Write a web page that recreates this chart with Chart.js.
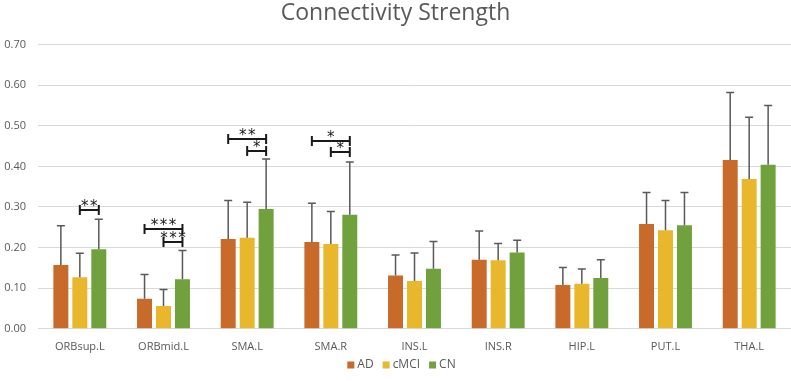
<!DOCTYPE html>
<html>
<head>
<meta charset="utf-8">
<script src="https://cdn.jsdelivr.net/npm/chart.js@4"></script>
<style>
  html, body { margin: 0; padding: 0; background: #fff; }
  #wrap { width: 791px; height: 381px; }
</style>
</head>
<body>
<div id="wrap"><canvas id="myChart"></canvas></div>
<script>
var regions = ["ORBsup.L", "ORBmid.L", "SMA.L", "SMA.R", "INS.L", "INS.R", "HIP.L", "PUT.L", "THA.L"];
var adValues = [0.157, 0.074, 0.221, 0.214, 0.131, 0.170, 0.108, 0.258, 0.416];
var cmciValues = [0.127, 0.056, 0.224, 0.209, 0.118, 0.169, 0.111, 0.243, 0.369];
var cnValues = [0.196, 0.122, 0.295, 0.281, 0.148, 0.188, 0.125, 0.255, 0.404];
// top of each error bar (mean + sd)
var adTops = [0.254, 0.134, 0.316, 0.309, 0.182, 0.241, 0.151, 0.336, 0.582];
var cmciTops = [0.186, 0.097, 0.312, 0.289, 0.187, 0.210, 0.147, 0.316, 0.521];
var cnTops = [0.270, 0.193, 0.418, 0.411, 0.215, 0.218, 0.170, 0.336, 0.550];
var yTicks = [0, 0.1, 0.2, 0.3, 0.4, 0.5, 0.6, 0.7];
// significance brackets: [category, from series, to series, level, stars]
var sigCategory = [0, 1, 1, 2, 2, 3, 3];
var sigFrom = [1, 0, 1, 0, 1, 0, 1];
var sigTo = [2, 2, 2, 2, 2, 2, 2];
var sigLevel = [0.292, 0.247, 0.213, 0.468, 0.438, 0.463, 0.436];
var sigLabel = ["**", "***", "***", "**", "*", "*", "*"];

var errorTops = [adTops, cmciTops, cnTops];

var extrasPlugin = {
  id: "extras",
  afterDatasetsDraw: function (chart) {
    var c = chart.ctx;
    var y = chart.scales.y;
    c.save();
    // error bars
    c.strokeStyle = "#595959";
    c.lineWidth = 1.5;
    chart.data.datasets.forEach(function (ds, di) {
      var meta = chart.getDatasetMeta(di);
      meta.data.forEach(function (bar, i) {
        var top = y.getPixelForValue(errorTops[di][i]);
        c.beginPath();
        c.moveTo(bar.x, bar.y);
        c.lineTo(bar.x, top);
        c.moveTo(bar.x - 4, top);
        c.lineTo(bar.x + 4, top);
        c.stroke();
      });
    });
    // significance brackets
    c.strokeStyle = "#1a1a1a";
    c.fillStyle = "#1a1a1a";
    c.lineWidth = 2;
    c.font = "15px 'DejaVu Sans'";
    c.textAlign = "center";
    c.textBaseline = "alphabetic";
    for (var k = 0; k < sigCategory.length; k++) {
      var x1 = chart.getDatasetMeta(sigFrom[k]).data[sigCategory[k]].x;
      var x2 = chart.getDatasetMeta(sigTo[k]).data[sigCategory[k]].x;
      var yy = Math.round(y.getPixelForValue(sigLevel[k]));
      c.beginPath();
      c.moveTo(x1, yy);
      c.lineTo(x2, yy);
      c.moveTo(x1, yy - 5);
      c.lineTo(x1, yy + 5);
      c.moveTo(x2, yy - 5);
      c.lineTo(x2, yy + 5);
      c.stroke();
      c.fillText(sigLabel[k].split("").join("\u200A"), (x1 + x2) / 2, yy + 1);
    }
    c.restore();
  },
  afterDraw: function (chart) {
    // legend row under the axis labels
    var c = chart.ctx;
    var sets = chart.data.datasets;
    c.save();
    c.font = "12px 'Open Sans'";
    c.textBaseline = "middle";
    c.textAlign = "left";
    var box = 7, gapText = 3, gapItem = 9;
    var total = 0;
    sets.forEach(function (ds, i) {
      total += box + gapText + c.measureText(ds.label).width + (i < sets.length - 1 ? gapItem : 0);
    });
    var x = chart.width / 2 + 6 - total / 2;
    var cy = chart.height - 16;
    sets.forEach(function (ds) {
      c.fillStyle = ds.backgroundColor;
      c.fillRect(x, cy - box / 2, box, box);
      x += box + gapText;
      c.fillStyle = "#595959";
      c.fillText(ds.label, x, cy);
      x += c.measureText(ds.label).width + gapItem;
    });
    c.restore();
  }
};

var ctx = document.getElementById("myChart").getContext("2d");
var myChart = new Chart(ctx, {
  type: "bar",
  data: {
    labels: regions,
    datasets: [
      { label: "AD", data: adValues, backgroundColor: "#C86A2A" },
      { label: "cMCI", data: cmciValues, backgroundColor: "#E9B72B" },
      { label: "CN", data: cnValues, backgroundColor: "#70A13C" },
    ],
  },
  options: {
    responsive: true,
    maintainAspectRatio: false,
    animation: false,
    categoryPercentage: 0.68,
    barPercentage: 0.79,
    layout: { padding: { left: 0, right: 0, top: 0, bottom: 17 } },
    scales: {
      x: {
        grid: { display: false, drawTicks: false },
        border: { color: "#d9d9d9" },
        ticks: { color: "#595959", font: { family: "'Open Sans'", size: 11 }, padding: 11 },
      },
      y: {
        min: 0,
        max: 0.7,
        afterBuildTicks: function (axis) {
          axis.ticks = yTicks.map(function (v) { return { value: v }; });
        },
        afterFit: function (axis) {
          axis.width = 38;
        },
        border: { display: false },
        grid: { color: "#d9d9d9", lineWidth: 1, drawTicks: false },
        ticks: {
          color: "#595959",
          font: { family: "'Open Sans'", size: 11 },
          padding: 12,
          callback: function (v) { return Number(v).toFixed(2); },
        },
      },
    },
    plugins: {
      title: {
        display: true,
        text: "Connectivity Strength",
        color: "#595959",
        font: { family: "'Open Sans'", size: 23, weight: "normal" },
        padding: { top: 0, bottom: 17 },
      },
      legend: { display: false },
      tooltip: { enabled: false },
    },
  },
  plugins: [extrasPlugin],
});
</script>
</body>
</html>
